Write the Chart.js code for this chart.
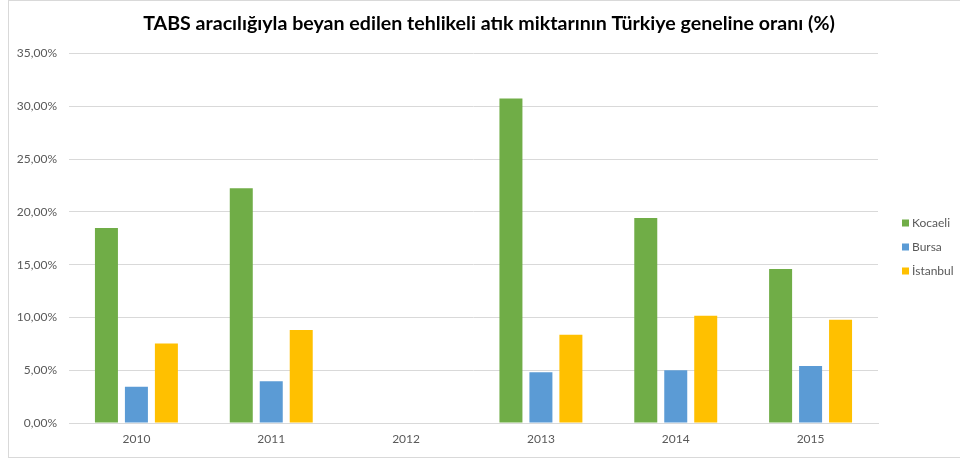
<!DOCTYPE html>
<html>
<head>
<meta charset="utf-8">
<script src="https://cdn.jsdelivr.net/npm/chart.js@4"></script>
<style>
  html, body { margin: 0; padding: 0; background: #fff; overflow: hidden; }
  #box { position: absolute; left: 8px; top: 0; width: 961px; height: 456px; border: 1px solid #d9d9d9; }
  #chart { display: block; }
</style>
</head>
<body>
<div id="box"><canvas id="chart" width="960" height="456"></canvas></div>
<script>
const years = ["2010", "2011", "2012", "2013", "2014", "2015"];
const kocaeli = [18.47, 22.23, null, 30.74, 19.42, 14.58];
const bursa = [3.44, 3.96, null, 4.81, 5.0, 5.41];
const istanbul = [7.52, 8.8, null, 8.35, 10.15, 9.77];
const yTicks = { min: 0, max: 35, step: 5 };

const fmt = (v) => v.toFixed(2).replace(".", ",") + "%";

// legend drawn by hand so it sits where Excel puts it
const sideLegend = {
  id: "sideLegend",
  afterDraw(c) {
    const ctx = c.ctx;
    const x = c.chartArea.right + 24;
    const y0 = 222;
    ctx.save();
    ctx.font = "12px Lato";
    ctx.textBaseline = "middle";
    c.data.datasets.forEach((ds, i) => {
      const y = y0 + i * 24;
      ctx.fillStyle = ds.backgroundColor;
      ctx.fillRect(x, y - 3.5, 7, 7);
      ctx.fillStyle = "#595959";
      ctx.fillText(ds.label, x + 10, y);
    });
    ctx.restore();
  },
};

new Chart(document.getElementById("chart"), {
  type: "bar",
  data: {
    labels: years,
    datasets: [
      { label: "Kocaeli", data: kocaeli, backgroundColor: "#70AD47" },
      { label: "Bursa", data: bursa, backgroundColor: "#5B9BD5" },
      { label: "İstanbul", data: istanbul, backgroundColor: "#FFC000" },
    ],
  },
  options: {
    responsive: false,
    animation: false,
    categoryPercentage: 0.667,
    barPercentage: 0.767,
    plugins: {
      legend: { display: false },
      tooltip: { enabled: false },
      title: {
        display: true,
        text: "TABS aracılığıyla beyan edilen tehlikeli atık miktarının Türkiye geneline oranı (%)",
        color: "#000",
        font: { family: "Lato", size: 19.6, weight: "bold" },
        padding: { top: 11, bottom: 18 },
      },
    },
    scales: {
      x: {
        grid: { display: false, drawTicks: false },
        border: { color: "#d9d9d9", width: 1 },
        ticks: { color: "#595959", font: { family: "Lato", size: 12 }, padding: 9 },
        afterFit: (s) => { s.height = 34; },
      },
      y: {
        min: yTicks.min,
        max: yTicks.max,
        grid: { color: "#d9d9d9", drawTicks: false },
        border: { display: false },
        ticks: {
          stepSize: yTicks.step,
          color: "#595959",
          font: { family: "Lato", size: 12 },
          padding: 12,
          callback: (v) => fmt(v),
        },
        afterFit: (s) => { s.width = 60; },
      },
      // empty right-hand axis: keeps room for the legend without shifting the title
      side: {
        position: "right",
        grid: { display: false, drawTicks: false },
        border: { display: false },
        ticks: { display: false },
        afterFit: (s) => { s.width = 91; },
      },
    },
  },
  plugins: [sideLegend],
});
</script>
</body>
</html>
